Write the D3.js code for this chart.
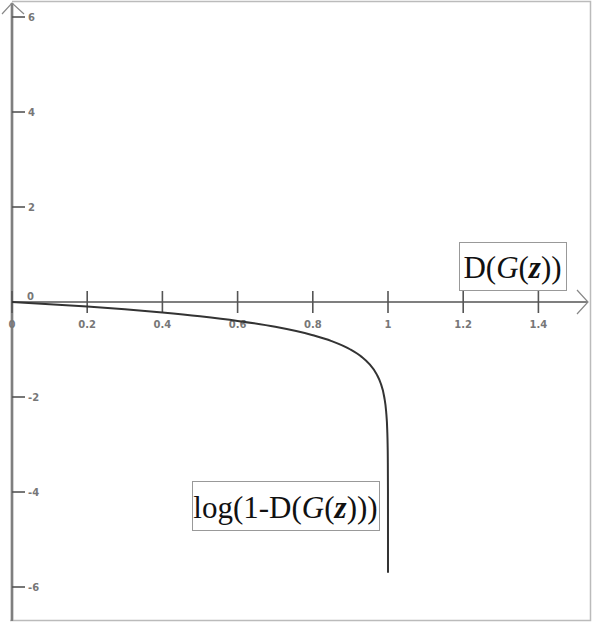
<!DOCTYPE html>
<html>
<head>
<meta charset="utf-8">
<script src="https://cdn.jsdelivr.net/npm/d3@7"></script>
<style>
  body { margin: 0; background: #fff; }
  svg { display: block; }
</style>
</head>
<body>
<svg id="chart"></svg>
<script>
// Werte
var xTicks = [0, 0.2, 0.4, 0.6, 0.8, 1, 1.2, 1.4];
var yTicks = [6, 4, 2, -2, -4, -6];
var curveX = [0, 0.1, 0.2, 0.3, 0.4, 0.5, 0.6, 0.7, 0.8, 0.85, 0.9, 0.93, 0.95, 0.97, 0.98, 0.99, 0.995, 0.998, 0.999, 0.9995, 0.9999, 0.99999, 0.999998];
var curveY = [0, -0.046, -0.097, -0.155, -0.222, -0.301, -0.398, -0.523, -0.699, -0.824, -1.0, -1.155, -1.301, -1.523, -1.699, -2.0, -2.301, -2.699, -3.0, -3.301, -4.0, -5.0, -5.7];

var width = 592, height = 623;

var svg = d3.select('#chart')
  .attr('width', width)
  .attr('height', height);

// Skalen
var x = d3.scaleLinear().domain([0, 1]).range([12, 388]);
var y = d3.scaleLinear().domain([0, 2]).range([302, 207]);

// Rahmen
svg.append('path')
  .attr('d', 'M12,1.5 H590.5 V620.5 H10')
  .attr('fill', 'none')
  .attr('stroke', '#bbb')
  .attr('stroke-width', 1.5);

// y-Achse (doppelt)
svg.append('line')
  .attr('x1', x(0)).attr('x2', x(0))
  .attr('y1', 3).attr('y2', 621)
  .attr('stroke', '#aaa').attr('stroke-width', 3);
svg.append('line')
  .attr('x1', x(0)).attr('x2', x(0))
  .attr('y1', 3).attr('y2', 621)
  .attr('stroke', '#555').attr('stroke-width', 1);

// Pfeil oben
svg.append('path')
  .attr('d', 'M2,14 L' + x(0) + ',3 L24,14')
  .attr('fill', 'none')
  .attr('stroke', '#888').attr('stroke-width', 1.2);

// x-Achse
svg.append('line')
  .attr('x1', x(0)).attr('x2', 588)
  .attr('y1', y(0)).attr('y2', y(0))
  .attr('stroke', '#555').attr('stroke-width', 1.6);
svg.append('path')
  .attr('d', 'M577,290 L588,' + y(0) + ' L577,314')
  .attr('fill', 'none')
  .attr('stroke', '#888').attr('stroke-width', 1.2);

// x-Ticks
var xt = svg.append('g');
xt.selectAll('line').data(xTicks).enter().append('line')
  .attr('x1', function(d) { return x(d); })
  .attr('x2', function(d) { return x(d); })
  .attr('y1', y(0) - 11).attr('y2', y(0) + 11)
  .attr('stroke', '#555').attr('stroke-width', 1.6);
xt.selectAll('text').data(xTicks).enter().append('text')
  .attr('x', function(d) { return x(d); })
  .attr('y', y(0) + 26)
  .attr('text-anchor', 'middle')
  .attr('font-family', 'DejaVu Sans, sans-serif')
  .attr('font-size', 10)
  .attr('font-weight', 'bold')
  .attr('fill', '#777')
  .text(function(d) { return d; });

// y-Ticks
var yt = svg.append('g');
yt.selectAll('line').data(yTicks).enter().append('line')
  .attr('x1', x(0)).attr('x2', x(0) + 13)
  .attr('y1', function(d) { return y(d); })
  .attr('y2', function(d) { return y(d); })
  .attr('stroke', '#555').attr('stroke-width', 1.6);
yt.selectAll('text').data(yTicks).enter().append('text')
  .attr('x', x(0) + 16)
  .attr('y', function(d) { return y(d) + 4; })
  .attr('font-family', 'DejaVu Sans, sans-serif')
  .attr('font-size', 10)
  .attr('font-weight', 'bold')
  .attr('fill', '#777')
  .text(function(d) { return d < 0 ? '-' + Math.abs(d) : d; });

// Null-Beschriftung an der y-Achse
svg.append('text')
  .attr('x', x(0) + 15).attr('y', y(0) - 2)
  .attr('font-family', 'DejaVu Sans, sans-serif')
  .attr('font-size', 10).attr('font-weight', 'bold')
  .attr('fill', '#777')
  .text('0');

// Kurve
var pts = curveX.map(function(d, i) { return [d, curveY[i]]; });
svg.append('path')
  .datum(pts)
  .attr('d', d3.line()
    .x(function(d) { return x(d[0]); })
    .y(function(d) { return y(d[1]); })
    .curve(d3.curveMonotoneX))
  .attr('fill', 'none')
  .attr('stroke', '#333')
  .attr('stroke-width', 2);

// Beschriftungen mit Kasten
function labelBox(x0, y0, w, h, parts) {
  svg.append('rect')
    .attr('x', x0 + 0.5).attr('y', y0 + 0.5)
    .attr('width', w).attr('height', h)
    .attr('fill', '#fff')
    .attr('stroke', '#999').attr('stroke-width', 1);
  var t = svg.append('text')
    .attr('x', x0 + w / 2).attr('y', y0 + h - 12)
    .attr('text-anchor', 'middle')
    .attr('font-family', 'Liberation Serif, Times New Roman, serif')
    .attr('font-size', 31)
    .attr('fill', '#111');
  parts.forEach(function(p) {
    var s = t.append('tspan').text(p[0]);
    if (p[1]) s.attr('font-style', 'italic');
    if (p[2]) s.attr('font-weight', 'bold');
  });
}

labelBox(459, 242, 107, 48, [['D('], ['G', 1], ['('], ['z', 1, 1], ['))']]);
labelBox(192, 481, 187, 49, [['log(1-D('], ['G', 1], ['('], ['z', 1, 1], [')))']]);
</script>
</body>
</html>
